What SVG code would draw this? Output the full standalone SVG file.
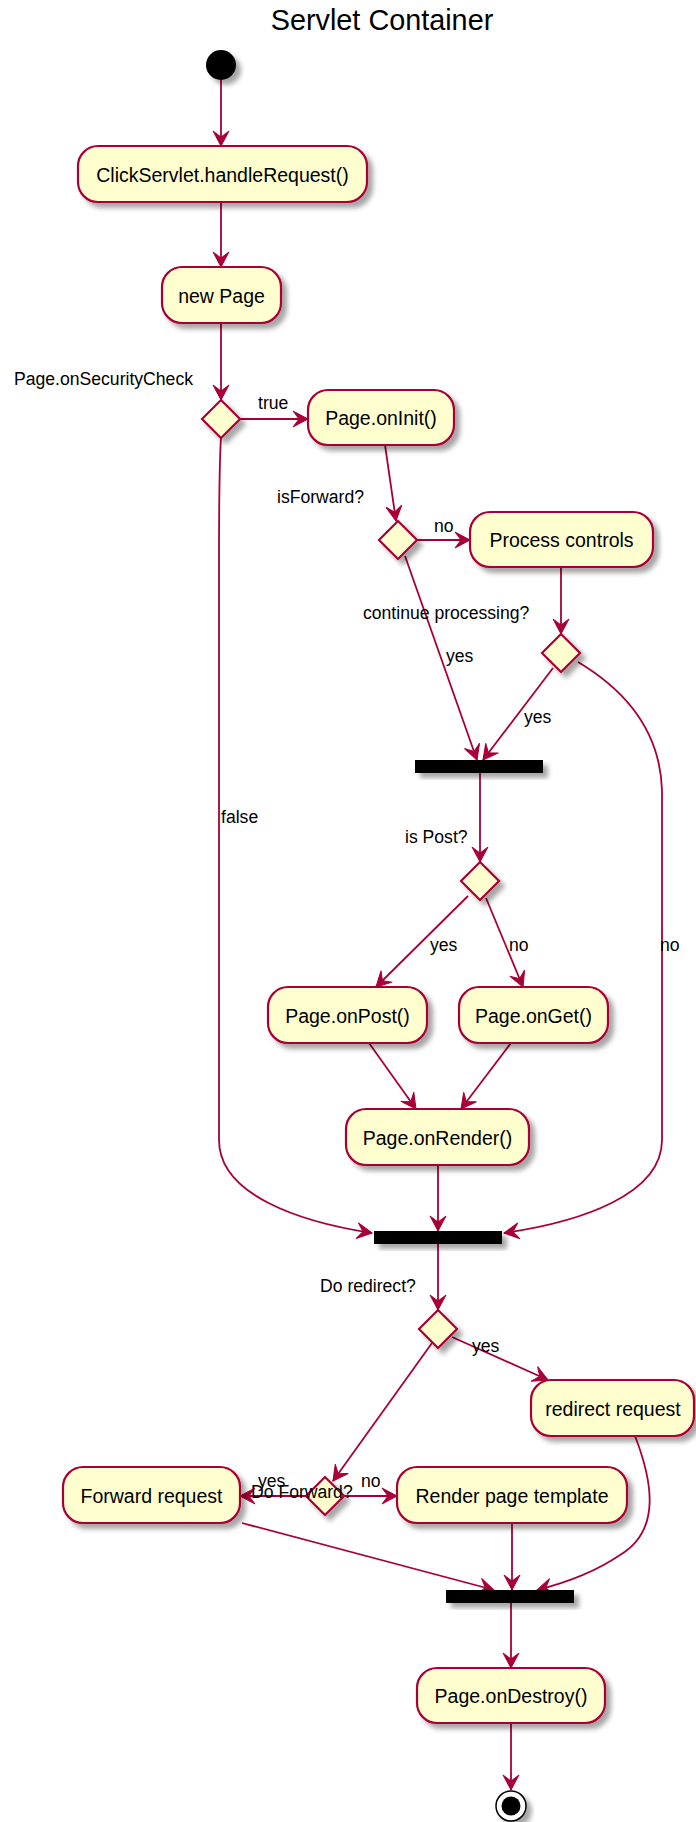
<svg xmlns="http://www.w3.org/2000/svg" width="696" height="1822" viewBox="0 0 696 1822">
<style>
.box{fill:#FEFECE;stroke:#A80036;stroke-width:2.2;filter:url(#sh)}
.dia{fill:#FEFECE;stroke:#A80036;stroke-width:2.2;filter:url(#sh)}
.bar{fill:#000;filter:url(#sh)}
.t{font-family:"Liberation Sans",Arial,sans-serif;font-size:19.5px;fill:#000;text-anchor:middle}
.l{font-family:"Liberation Sans",Arial,sans-serif;font-size:17.6px;fill:#000}
.title{font-family:"Liberation Sans",Arial,sans-serif;font-size:28.8px;fill:#000;text-anchor:middle}
#edges path{fill:none;stroke:#A80036;stroke-width:1.8;marker-end:url(#arr)}
</style>
<defs>
<filter id="sh" x="-20%" y="-30%" width="150%" height="180%">
<feGaussianBlur in="SourceAlpha" stdDeviation="2.5"/>
<feOffset dx="5" dy="5" result="b"/>
<feFlood flood-color="#000" flood-opacity="0.35"/>
<feComposite in2="b" operator="in"/>
<feMerge><feMergeNode/><feMergeNode in="SourceGraphic"/></feMerge>
</filter>
<marker id="arr" viewBox="-16 -9 17 18" refX="0" refY="0" markerWidth="17" markerHeight="18" markerUnits="userSpaceOnUse" orient="auto">
<path d="M0,0 L-15,-8 L-9,0 L-15,8 Z" fill="#A80036" stroke="#A80036" stroke-width="1"/>
</marker>
</defs>
<rect width="696" height="1822" fill="#fff"/>
<text class="title" x="382" y="30">Servlet Container</text>

<g id="edges">
<path d="M221,80 L221,146"/>
<path d="M221,202 L221,267"/>
<path d="M221,323 L221,400"/>
<path d="M240,419 L308,419"/>
<path d="M385,445 L396,521"/>
<path d="M417,540 L470,540"/>
<path d="M561,567 L561,634"/>
<path d="M405,556 L477,760"/>
<path d="M553,668 L483,760"/>
<path d="M578,662 C625,690 660,730 662,790 L662,1140 C662,1195 580,1222 504,1233"/>
<path d="M221,437 C219,470 219,500 219,560 L219,1140 C219,1195 300,1222 372,1233"/>
<path d="M480,773 L480,862"/>
<path d="M468,896 L376,987"/>
<path d="M486,898 L523,987"/>
<path d="M369,1043 L416,1109"/>
<path d="M511,1043 L461,1109"/>
<path d="M438,1165 L438,1231"/>
<path d="M438,1244 L438,1310"/>
<path d="M452,1337 L548,1380"/>
<path d="M432,1343 L333,1481"/>
<path d="M306,1496 L240,1496"/>
<path d="M344,1496 L397,1496"/>
<path d="M242,1523 L494,1590"/>
<path d="M512,1523 L512,1590"/>
<path d="M635,1436 C652,1480 662,1530 620,1555 C595,1572 565,1583 537,1590"/>
<path d="M511,1603 L511,1668"/>
<path d="M511,1723 L511,1790"/>
</g>

<g id="start"><circle cx="221" cy="65" r="15" fill="#000" filter="url(#sh)"/></g>
<g id="n_click"><rect class="box" x="78" y="146" width="289" height="56" rx="20"/><text class="t" x="222.5" y="181.5">ClickServlet.handleRequest()</text></g>
<g id="n_newpage"><rect class="box" x="162" y="267" width="119" height="56" rx="20"/><text class="t" x="221.5" y="302.5">new Page</text></g>
<g id="d_security"><polygon class="dia" points="221,400 240,419 221,438 202,419"/></g>
<g id="n_oninit"><rect class="box" x="308" y="390" width="146" height="55" rx="20"/><text class="t" x="381" y="425">Page.onInit()</text></g>
<g id="d_forward1"><polygon class="dia" points="398,521 417,540 398,559 379,540"/></g>
<g id="n_process"><rect class="box" x="470" y="512" width="183" height="55" rx="20"/><text class="t" x="561.5" y="547">Process controls</text></g>
<g id="d_continue"><polygon class="dia" points="561,634 580,653 561,672 542,653"/></g>
<g id="bar1"><rect class="bar" x="415" y="760" width="128" height="13"/></g>
<g id="d_post"><polygon class="dia" points="480,862 499,881 480,900 461,881"/></g>
<g id="n_onpost"><rect class="box" x="268" y="987" width="159" height="56" rx="20"/><text class="t" x="347.5" y="1022.5">Page.onPost()</text></g>
<g id="n_onget"><rect class="box" x="459" y="987" width="149" height="56" rx="20"/><text class="t" x="533.5" y="1022.5">Page.onGet()</text></g>
<g id="n_onrender"><rect class="box" x="346" y="1109" width="183" height="56" rx="20"/><text class="t" x="437.5" y="1144.5">Page.onRender()</text></g>
<g id="bar2"><rect class="bar" x="374" y="1231" width="128" height="13"/></g>
<g id="d_redirect"><polygon class="dia" points="438,1310 457,1329 438,1348 419,1329"/></g>
<g id="n_redirect"><rect class="box" x="531" y="1380" width="163" height="56" rx="20"/><text class="t" x="613" y="1415.5">redirect request</text></g>
<g id="d_doforward"><polygon class="dia" points="325,1477 344,1496 325,1515 306,1496"/></g>
<g id="n_forward"><rect class="box" x="63" y="1467" width="177" height="56" rx="20"/><text class="t" x="151.5" y="1502.5">Forward request</text></g>
<g id="n_render"><rect class="box" x="397" y="1467" width="230" height="56" rx="20"/><text class="t" x="512" y="1502.5">Render page template</text></g>
<g id="bar3"><rect class="bar" x="446" y="1590" width="128" height="13"/></g>
<g id="n_ondestroy"><rect class="box" x="417" y="1668" width="188" height="55" rx="20"/><text class="t" x="511" y="1703">Page.onDestroy()</text></g>
<g id="end"><circle cx="511" cy="1806" r="15" fill="#fff" stroke="#000" stroke-width="1.5" filter="url(#sh)"/><circle cx="511" cy="1806" r="9.5" fill="#000"/></g>

<g id="labels">
<text class="l" x="14" y="385">Page.onSecurityCheck</text>
<text class="l" x="258" y="409">true</text>
<text class="l" x="277" y="503">isForward?</text>
<text class="l" x="434" y="532">no</text>
<text class="l" x="363" y="619">continue processing?</text>
<text class="l" x="446" y="662">yes</text>
<text class="l" x="524" y="723">yes</text>
<text class="l" x="221" y="823">false</text>
<text class="l" x="405" y="843">is Post?</text>
<text class="l" x="430" y="951">yes</text>
<text class="l" x="509" y="951">no</text>
<text class="l" x="660" y="951">no</text>
<text class="l" x="320" y="1292">Do redirect?</text>
<text class="l" x="472" y="1352">yes</text>
<text class="l" x="258" y="1487">yes</text>
<text class="l" x="251" y="1498">Do Forward?</text>
<text class="l" x="361" y="1487">no</text>
</g>
</svg>
